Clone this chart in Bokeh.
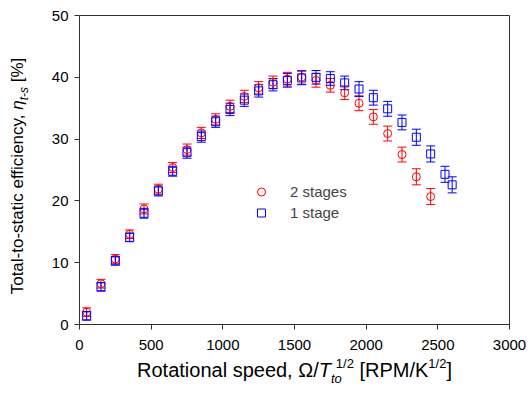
from bokeh.plotting import figure
from bokeh.models import (ColumnDataSource, Whisker, TeeHead, Legend, LegendItem,
                          FixedTicker, Range1d, Div)
from bokeh.layouts import row, column
from bokeh.embed import file_html
from bokeh.resources import INLINE

# ---------------- data ----------------
speed_2stage = [50, 150, 250, 350, 450, 550, 650, 750, 850, 950, 1050, 1150, 1250,
                1350, 1450, 1550, 1650, 1750, 1850, 1950, 2050, 2150, 2250, 2350, 2450]
eff_2stage = [2.0, 6.6, 10.6, 14.6, 18.7, 21.9, 25.4, 28.3, 31.0, 33.2, 35.3, 36.9, 38.3,
              39.2, 39.7, 40.0, 39.5, 38.7, 37.5, 35.8, 33.6, 30.9, 27.5, 23.9, 20.7]
err_2stage = [0.7, 0.7, 0.7, 0.7, 0.8, 0.8, 0.8, 0.9, 0.9, 0.9, 1.0, 1.0, 1.0,
              1.0, 1.1, 1.1, 1.1, 1.1, 1.1, 1.2, 1.2, 1.2, 1.2, 1.3, 1.3]

speed_1stage = [50, 150, 250, 350, 450, 550, 650, 750, 850, 950, 1050, 1150, 1250, 1350,
                1450, 1550, 1650, 1750, 1850, 1950, 2050, 2150, 2250, 2350, 2450, 2550, 2600]
eff_1stage = [1.4, 6.1, 10.3, 14.1, 18.0, 21.6, 24.8, 27.8, 30.4, 32.8, 34.8, 36.3, 37.8, 38.8,
              39.5, 39.9, 40.0, 39.8, 39.1, 38.1, 36.7, 34.9, 32.7, 30.3, 27.6, 24.3, 22.6]
err_1stage = [0.7, 0.7, 0.7, 0.7, 0.8, 0.8, 0.8, 0.9, 0.9, 0.9, 1.0, 1.0, 1.0, 1.0,
              1.1, 1.1, 1.1, 1.1, 1.1, 1.2, 1.2, 1.2, 1.2, 1.3, 1.3, 1.3, 1.3]

series_labels = ["2 stages", "1 stage"]
x_ticks = [0, 500, 1000, 1500, 2000, 2500, 3000]
y_ticks = [0, 10, 20, 30, 40, 50]

FONT = "Liberation Sans"
YDIV_W = 40          # strip holding the rotated y title
XDIV_H = 36          # strip holding the x title
PW, PH = 529 - YDIV_W, 396 - XDIV_H   # 489 x 360
# frame in page pixels: x 79..509, y 15..324
BL, BR, BT, BB = 79 - YDIV_W, 20, 15, PH - 324

p = figure(width=PW, height=PH, output_backend="svg", toolbar_location=None,
           x_range=Range1d(0, 3000), y_range=Range1d(0, 50),
           min_border_left=BL, min_border_right=BR, min_border_top=BT, min_border_bottom=BB,
           margin=0)
p.grid.visible = False
p.outline_line_color = "#303030"
p.outline_line_width = 1
p.background_fill_color = "white"
p.border_fill_color = "white"

for ax, ticks, stand in ((p.xaxis[0], x_ticks, 10), (p.yaxis[0], y_ticks, 6)):
    ax.ticker = FixedTicker(ticks=ticks)
    ax.minor_tick_line_color = None
    ax.major_tick_in = 0
    ax.major_tick_out = 5
    ax.major_label_standoff = stand
    ax.major_label_text_font = FONT
    ax.major_label_text_font_size = "15px"
    ax.major_label_text_color = "black"
    ax.axis_line_color = "#303030"
    ax.major_tick_line_color = "#303030"

src2 = ColumnDataSource(dict(x=speed_2stage, y=eff_2stage,
                             lo=[v - e for v, e in zip(eff_2stage, err_2stage)],
                             hi=[v + e for v, e in zip(eff_2stage, err_2stage)]))
src1 = ColumnDataSource(dict(x=speed_1stage, y=eff_1stage,
                             lo=[v - e for v, e in zip(eff_1stage, err_1stage)],
                             hi=[v + e for v, e in zip(eff_1stage, err_1stage)]))

for src, col in ((src2, "#ff0000"), (src1, "#0000ff")):
    w = Whisker(base="x", upper="hi", lower="lo", source=src, line_color=col, line_width=1,
                upper_head=TeeHead(size=9, line_color=col, line_width=1),
                lower_head=TeeHead(size=9, line_color=col, line_width=1))
    p.add_layout(w)

r2 = p.scatter("x", "y", source=src2, marker="circle", size=8, fill_color=None,
               line_color="#ff0000", line_width=1)
r1 = p.scatter("x", "y", source=src1, marker="square", size=8, fill_color=None,
               line_color="#0000ff", line_width=1)

legend = Legend(items=[LegendItem(label=series_labels[0], renderers=[r2]),
                       LegendItem(label=series_labels[1], renderers=[r1])],
                location=(172, 101), padding=0, margin=0, spacing=0,
                glyph_width=20, glyph_height=21, label_height=21, label_standoff=19,
                label_text_font=FONT, label_text_font_size="15px",
                border_line_color=None, background_fill_alpha=0)
p.add_layout(legend)

# ---------------- axis titles (HTML text with italics, sub- and superscripts) ----------------
SUB = "font-size:13px;position:relative;top:6px"
SUP = "font-size:13px;position:relative;top:-9px"
YSUB = "font-size:12px;position:relative;top:5px"

x_title = ('<div style="box-sizing:border-box;width:%dpx;height:%dpx;padding-left:20px;'
           'text-align:center;font-family:\'Liberation Sans\';font-size:20px;line-height:21px;'
           'white-space:nowrap;color:#000">'
           'Rotational speed, &Omega;/<i>T</i>'
           '<span style="%s"><i>to</i></span>'
           '<span style="%s;margin-left:-6px">1/2</span>'
           ' [RPM/K<span style="%s">1/2</span>]</div>') % (PW, XDIV_H, SUB, SUP, SUP)

y_title = ('<div style="box-sizing:border-box;width:396px;height:%dpx;padding-left:44px;'
           'transform-origin:0 0;transform:translate(0px,396px) rotate(-90deg);'
           'text-align:center;font-family:\'Liberation Sans\';font-size:17px;line-height:36px;'
           'white-space:nowrap;color:#000">'
           'Total-to-static efficiency, <i>&eta;</i>'
           '<span style="%s"><i>t-s</i></span> [%%]</div>') % (YDIV_W, YSUB)

ydiv = Div(text=y_title, width=YDIV_W, height=396, margin=0)
xdiv = Div(text=x_title, width=PW, height=XDIV_H, margin=0)

layout = row(ydiv, column(p, xdiv, spacing=0), spacing=0)

open("out.html", "w").write(file_html(layout, INLINE))
